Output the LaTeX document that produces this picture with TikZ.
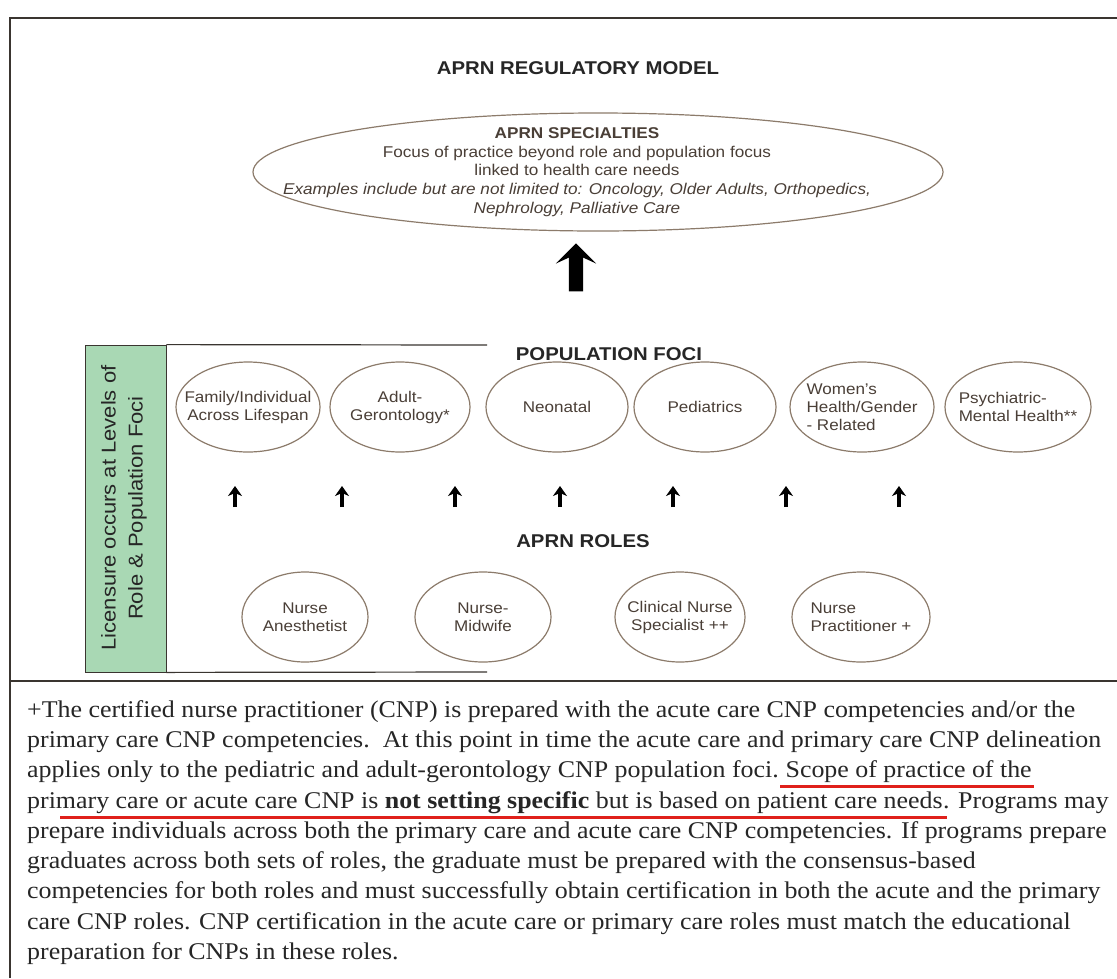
\documentclass[tikz,border=0pt]{standalone}
\usepackage{fontspec}
\setmainfont{Liberation Serif}[FakeStretch=1.08]
\setsansfont{Liberation Sans}[FakeStretch=1.1]
\usetikzlibrary{shapes.geometric,shapes.arrows,arrows.meta}
\definecolor{ebrown}{HTML}{8C7B6B}
\definecolor{etext}{HTML}{4A3F37}
\definecolor{lgreen}{HTML}{A9D8B4}
\definecolor{framec}{HTML}{3A3530}
\definecolor{ulred}{HTML}{E0201B}
\tikzset{
  foc/.style={ellipse, draw=ebrown, line width=1.2pt, inner sep=0pt,
    minimum width=144, minimum height=90},
  ftxt/.style={inner sep=0pt, text=etext, align=center,
    font=\sffamily\fontsize{15.5}{18}\selectfont},
  role/.style={foc, minimum width=130},
  head/.style={font=\sffamily\bfseries\fontsize{18.5}{22}\selectfont, text=black!85},
  uparrow/.style={-{Stealth[width=14pt,length=10pt,inset=3pt]}, line width=3.4pt},
  body/.style={anchor=base west, inner sep=0pt, font=\fontsize{24}{30}\selectfont, text=black!85},
  ul/.style={ulred, line width=3pt},
}
\begin{document}
\begin{tikzpicture}[x=1pt,y=-1pt]
\useasboundingbox (0,0) rectangle (1117,978);
\fill[white] (0,0) rectangle (1117,978);
% frame
\draw[framec, line width=2.4pt] (1117,18) -- (10,18) -- (10,978);
\draw[framec, line width=2.4pt] (10,681) -- (1117,681);

% title
\node[head] (title) at (578,68) {APRN REGULATORY MODEL};

% specialties ellipse
\node[ellipse, draw=ebrown, line width=1.2pt, minimum width=690, minimum height=118, inner sep=0pt] (spec) at (598,172) {};
\node[inner sep=0pt, align=center, text=etext, font=\sffamily\fontsize{15.6}{18.75}\selectfont] (spectext) at (577,172)
  {\textbf{APRN SPECIALTIES}\\
   Focus of practice beyond role and population focus\\
   linked to health care needs\\
   \itshape Examples include but are not limited to: Oncology, Older Adults, Orthopedics,\\
   \itshape Nephrology, Palliative Care};

% big arrow
\node[single arrow, fill=black, rotate=90, minimum height=48pt, inner sep=7pt,
      single arrow head extend=13pt, single arrow head indent=6pt] (bigarrow) at (576,271) {};

% green box
\node[draw=framec, line width=0.8pt, fill=lgreen, minimum width=81, minimum height=327, inner sep=0pt] (green) at (125.5,508.5) {};
\node[rotate=90, align=center, text=black!85, font=\sffamily\fontsize{20}{27}\selectfont] (lic) at (124,508)
  {Licensure occurs at Levels of\\Role \& Population Foci};
\coordinate (topend) at (487,345);
\coordinate (botend) at (487,672);
\draw[framec, line width=1.2pt] (green.north east) -- (topend);
\draw[framec, line width=1.2pt] (green.south east) -- (botend);

% population foci
\node[head] (poplabel) at (609,354) {POPULATION FOCI};
\node[foc] (p1) at (248,407) {};
\node[ftxt] (p1t) at (p1) {Family/Individual\\Across Lifespan};
\node[foc, minimum width=140] (p2) at (400,407) {};
\node[ftxt] (p2t) at (p2) {Adult-\\Gerontology*};
\node[foc, minimum width=142] (p3) at (557,407) {};
\node[ftxt] (p3t) at (p3) {Neonatal};
\node[foc, minimum width=142] (p4) at (705,407) {};
\node[ftxt] (p4t) at (p4) {Pediatrics};
\node[foc] (p5) at (862,407) {};
\node[ftxt, align=left] (p5t) at (p5) {Women's\\Health/Gender\\- Related};
\node[foc, minimum width=146] (p6) at (1018,407) {};
\node[ftxt, align=left] (p6t) at (p6) {Psychiatric-\\Mental Health**};

% small arrows
\foreach \i/\x in {1/235,2/342,3/455,4/560,5/673,6/786,7/899}{
  \coordinate (s\i) at (\x,507);
  \coordinate (e\i) at (\x,486);
  \draw[uparrow] (s\i) -- (e\i);
}

% roles
\node[head] (rolelabel) at (583,541) {APRN ROLES};
\node[role, minimum width=126] (r1) at (305,617) {};
\node[ftxt] (r1t) at (r1) {Nurse\\Anesthetist};
\node[role, minimum width=136] (r2) at (483,617) {};
\node[ftxt] (r2t) at (r2) {Nurse-\\Midwife};
\node[role] (r3) at (680,617) {};
\node[ftxt] (r3t) at (r3) {Clinical Nurse\\Specialist ++};
\node[role, minimum width=138] (r4) at (861,617) {};
\node[ftxt, align=left] (r4t) at (r4) {Nurse\\Practitioner +};

% footnote text
\node[body] (l1) at (27,717) {+The certified nurse practitioner (CNP) is prepared with the acute care CNP competencies and/or the};
\node[body] (l2) at (27,747) {primary care CNP competencies.\ \ At this point in time the acute care and primary care CNP delineation};
\node[body] (l3a) at (27,777) {applies only to the pediatric and adult-gerontology CNP population foci.\ \ };
\node[body] (l3b) at (l3a.base east) {Scope of practice of the};
\node[body] (l4a) at (27,808) {primary care or acute care CNP is \textbf{not setting specific} but is based on patient care needs};
\node[body] (l4b) at (l4a.base east) {. Programs may};
\node[body] (l5) at (27,838) {prepare individuals across both the primary care and acute care CNP competencies. If programs prepare};
\node[body] (l6) at (27,868) {graduates across both sets of roles, the graduate must be prepared with the consensus-based};
\node[body] (l7) at (27,898) {competencies for both roles and must successfully obtain certification in both the acute and the primary};
\node[body] (l8) at (27,929) {care CNP roles. CNP certification in the acute care or primary care roles must match the educational};
\node[body] (l9) at (27,959) {preparation for CNPs in these roles.};

% red underlines
\draw[ul] ([xshift=-5pt,yshift=-9pt]l3b.base west) -- ([xshift=2pt,yshift=-9pt]l3b.base east);
\draw[ul] ([xshift=33pt,yshift=-9pt]l4a.base west) -- ([xshift=4pt,yshift=-9pt]l4a.base east);
\end{tikzpicture}
\end{document}
